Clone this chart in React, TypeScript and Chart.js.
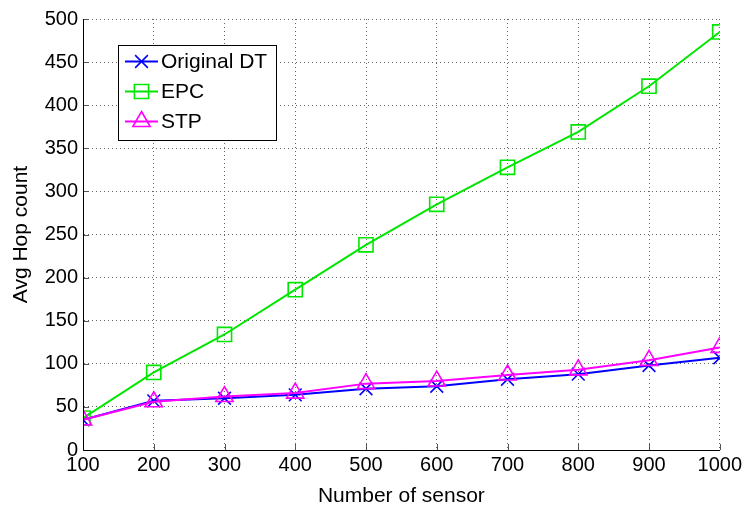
import React, { useEffect, useRef } from 'react';
import { Chart, registerables } from 'chart.js';
import { drawPoint } from 'chart.js/helpers';

Chart.register(...registerables);

const sensorCounts = [100, 200, 300, 400, 500, 600, 700, 800, 900, 1000];
const originalDT = [35, 57, 60, 64, 71, 74, 82, 88, 98, 107];
const epc = [37, 90, 134, 186, 238, 285, 328, 369, 422, 485];
const stp = [35, 56, 62, 66, 77, 80, 87, 93, 104, 119];

const seriesLabels = ['Original DT', 'EPC', 'STP'];
const seriesColors = ['#0000ff', '#00e600', '#ff00ff'];
const seriesMarkers = ['crossRot', 'rect', 'triangle'];
const seriesRadius = [9, 10, 10];

const xTitle = 'Number of sensor';
const yTitle = 'Avg Hop count';
const xMin = 100, xMax = 1000, xStep = 100;
const yMin = 0, yMax = 500, yStep = 50;

const FONT = '"Liberation Sans", Arial, sans-serif';

const innerTicks = {
  id: 'innerTicks',
  afterDatasetsDraw(chart: any) {
    const { ctx, chartArea: ca } = chart;
    const xs = chart.scales.x, ys = chart.scales.y;
    ctx.save();
    ctx.strokeStyle = '#555';
    ctx.lineWidth = 1;
    ctx.beginPath();
    xs.ticks.forEach((t: any) => {
      const px = Math.round(xs.getPixelForValue(t.value)) + 0.5;
      ctx.moveTo(px, ca.bottom);
      ctx.lineTo(px, ca.bottom - 6);
    });
    ys.ticks.forEach((t: any) => {
      const py = Math.round(ys.getPixelForValue(t.value)) + 0.5;
      ctx.moveTo(ca.left, py);
      ctx.lineTo(ca.left + 6, py);
    });
    ctx.stroke();
    ctx.restore();
  },
};

const boxLegend = {
  id: 'boxLegend',
  afterDraw(chart: any) {
    const { ctx, chartArea: ca } = chart;
    const bx = Math.round(ca.left + 35), by = Math.round(ca.top + 26);
    const bw = 158, bh = 95;
    ctx.save();
    ctx.fillStyle = '#ffffff';
    ctx.fillRect(bx, by, bw, bh);
    ctx.strokeStyle = '#000';
    ctx.lineWidth = 1;
    ctx.strokeRect(bx + 0.5, by + 0.5, bw, bh);
    chart.data.datasets.forEach((ds: any, i: number) => {
      const cy = by + 16.5 + i * 30;
      ctx.strokeStyle = ds.borderColor;
      ctx.lineWidth = 2;
      ctx.beginPath();
      ctx.moveTo(bx + 7, cy);
      ctx.lineTo(bx + 40, cy);
      ctx.stroke();
      ctx.fillStyle = 'rgba(0,0,0,0)';
      ctx.lineWidth = ds.pointBorderWidth;
      drawPoint(ctx, { pointStyle: ds.pointStyle, radius: ds.pointRadius, rotation: 0, borderWidth: ds.pointBorderWidth } as any, bx + 23.5, cy);
      ctx.fillStyle = '#000';
      ctx.font = `21px ${FONT}`;
      ctx.textBaseline = 'middle';
      ctx.textAlign = 'left';
      ctx.fillText(ds.label, bx + 43, cy + 1);
    });
    ctx.restore();
  },
};

export default function App() {
  const ref = useRef<HTMLCanvasElement>(null);
  useEffect(() => {
    document.body.style.margin = '0';
    const series = [originalDT, epc, stp];
    const chart = new Chart(ref.current!, {
      type: 'line',
      data: {
        datasets: series.map((vals, i) => ({
          label: seriesLabels[i],
          data: sensorCounts.map((x, j) => ({ x, y: vals[j] })),
          borderColor: seriesColors[i],
          backgroundColor: 'rgba(0,0,0,0)',
          borderWidth: 2,
          pointStyle: seriesMarkers[i] as any,
          pointRadius: seriesRadius[i],
          pointHoverRadius: seriesRadius[i],
          pointBorderColor: seriesColors[i],
          pointBackgroundColor: 'rgba(0,0,0,0)',
          pointBorderWidth: 1.6,
          tension: 0,
          fill: false,
          order: 3 - i,
        })),
      },
      options: {
        responsive: false,
        animation: false,
        events: [],
        layout: { padding: { left: 0, top: 19, right: 25, bottom: 0 } },
        plugins: { legend: { display: false }, tooltip: { enabled: false } },
        scales: {
          x: {
            type: 'linear',
            min: xMin,
            max: xMax,
            afterFit(scale: any) { scale.height = 62; },
            ticks: { stepSize: xStep, color: '#000', font: { family: FONT, size: 20 }, padding: 3, maxRotation: 0, autoSkip: false, callback: (v: any) => String(v) },
            grid: { color: '#666', drawTicks: false, lineWidth: 1 } as any,
            border: { display: true, color: '#000', width: 1, dash: [1, 3] } as any,
            title: { display: true, text: xTitle, color: '#000', font: { family: FONT, size: 21 }, padding: { top: 0, bottom: 3 } },
          },
          y: {
            type: 'linear',
            min: yMin,
            max: yMax,
            afterFit(scale: any) { scale.width = 83; },
            ticks: { stepSize: yStep, color: '#000', font: { family: FONT, size: 20 }, padding: 5, callback: (v: any) => String(v) },
            grid: { color: '#666', drawTicks: false, lineWidth: 1 } as any,
            border: { display: true, color: '#000', width: 1, dash: [1, 3] } as any,
            title: { display: true, text: yTitle, color: '#000', font: { family: FONT, size: 21 }, padding: { top: 9, bottom: 0 } },
          },
        },
      },
      plugins: [innerTicks, boxLegend, {
        id: 'solidAxes',
        afterDatasetsDraw(c: any) {
          const { ctx, chartArea: ca } = c;
          ctx.save();
          ctx.strokeStyle = '#000';
          ctx.lineWidth = 1;
          ctx.beginPath();
          ctx.moveTo(Math.round(ca.left) + 0.5, ca.top);
          ctx.lineTo(Math.round(ca.left) + 0.5, Math.round(ca.bottom) + 0.5);
          ctx.lineTo(ca.right, Math.round(ca.bottom) + 0.5);
          ctx.stroke();
          ctx.restore();
        },
      }],
    });
    return () => chart.destroy();
  }, []);
  return (
    <div style={{ position: 'fixed', left: 0, top: 0, width: 745, height: 512, background: '#fff' }}>
      <canvas ref={ref} width={745} height={512} />
    </div>
  );
}
